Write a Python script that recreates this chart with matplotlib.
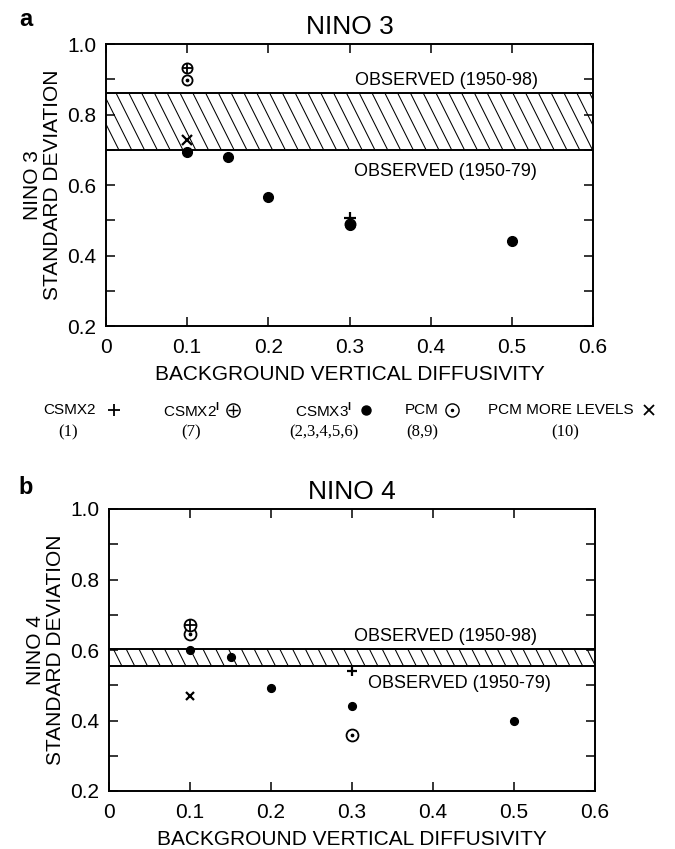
import numpy as np
import matplotlib
matplotlib.use("Agg")
import matplotlib.pyplot as plt
from matplotlib.lines import Line2D
from matplotlib.collections import LineCollection
from matplotlib.patches import Rectangle

# ---------------- data ----------------
diff_csmx2 = [0.3]
diff_csmx2p = [0.1]
diff_csmx3p = [0.1, 0.15, 0.2, 0.3, 0.5]
diff_pcm = [0.1, 0.3]
diff_pcm_more = [0.1]

nino3_csmx2 = [0.505]
nino3_csmx2p = [0.932]
nino3_csmx3p = [0.695, 0.680, 0.565, 0.487, 0.440]
nino3_pcm = [0.898, 0.490]
nino3_pcm_more = [0.728]
nino3_obs_1950_79 = 0.70
nino3_obs_1950_98 = 0.86

nino4_csmx2 = [0.541]
nino4_csmx2p = [0.670]
nino4_csmx3p = [0.600, 0.580, 0.493, 0.442, 0.400]
nino4_pcm = [0.645, 0.358]
nino4_pcm_more = [0.470]
nino4_obs_1950_79 = 0.555
nino4_obs_1950_98 = 0.603

x_ticks = [0, 0.1, 0.2, 0.3, 0.4, 0.5, 0.6]
x_tick_labels = ["0", "0.1", "0.2", "0.3", "0.4", "0.5", "0.6"]
y_ticks = [0.2, 0.3, 0.4, 0.5, 0.6, 0.7, 0.8, 0.9, 1.0]
y_tick_labels = ["0.2", "", "0.4", "", "0.6", "", "0.8", "", "1.0"]

legend_names = ["CSMX2", "CSMX2$^{\\mathbf{I}}$", "CSMX3$^{\\mathbf{I}}$", "PCM", "PCM MORE LEVELS"]
legend_runs = ["(1)", "(7)", "(2,3,4,5,6)", "(8,9)", "(10)"]

plt.rcParams['font.family'] = ['Liberation Sans', 'DejaVu Sans']
plt.rcParams['mathtext.fontset'] = 'custom'
plt.rcParams['mathtext.rm'] = 'Liberation Sans'
plt.rcParams['mathtext.bf'] = 'Liberation Sans:bold'

W, H = 675, 849
fig = plt.figure(figsize=(W / 100, H / 100), dpi=100)


def fx(x):
    return x / W


def fy(y):
    return 1 - y / H


def style_axes(ax, title, ylabel):
    ax.set_xlim(0, 0.6)
    ax.set_ylim(0.2, 1.0)
    ax.set_xticks(x_ticks)
    ax.set_xticklabels(x_tick_labels)
    ax.set_yticks(y_ticks)
    ax.set_yticklabels(y_tick_labels)
    ax.tick_params(direction='in', length=6.5, width=1.1, top=True, right=True,
                   labelsize=15)
    ax.tick_params(axis='x', pad=8.5)
    ax.tick_params(axis='y', pad=7)
    for s in ax.spines.values():
        s.set_linewidth(1.4)
    ax.set_title(title, fontsize=19, pad=7)
    ax.set_xlabel("BACKGROUND VERTICAL DIFFUSIVITY", fontsize=15, labelpad=6)
    ax.set_ylabel(ylabel, fontsize=15, labelpad=4, linespacing=1.05)


def draw_band(ax, lo, hi, spacing_px=12.8, slope=0.5):
    """Hatched band between lo and hi, lines running top-left to bottom-right."""
    xmin, xmax = ax.get_xlim()
    (px0, py0) = ax.transData.transform((xmin, lo))
    (px1, py1) = ax.transData.transform((xmax, hi))
    h = py1 - py0
    tops = np.arange(px0 - slope * h - spacing_px, px1 + spacing_px, spacing_px)
    inv = ax.transData.inverted()
    segs = []
    for xt in tops:
        a = inv.transform((xt, py1))
        b = inv.transform((xt + slope * h, py0))
        segs.append([a, b])
    lc = LineCollection(segs, colors='black', linewidths=0.75, zorder=1)
    clip = Rectangle((xmin, lo), xmax - xmin, hi - lo, transform=ax.transData,
                     facecolor='none', edgecolor='none')
    ax.add_patch(clip)
    lc.set_clip_path(clip)
    ax.add_collection(lc, autolim=False)
    ax.axhline(lo, color='black', lw=1.4, zorder=2)
    ax.axhline(hi, color='black', lw=1.4, zorder=2)
    ax.set_xlim(xmin, xmax)


def draw_points(ax, csmx2, csmx2p, csmx3p, pcm, pcm_more, sz):
    # CSMX3' : filled dot
    ax.plot(diff_csmx3p, csmx3p, ls='none', marker='o', ms=sz['dot'],
            color='black', mec='black', zorder=4)
    # PCM : circle with dot
    ax.plot(diff_pcm, pcm, ls='none', marker='o', ms=sz['circ'], mfc='none',
            mec='black', mew=1.3, zorder=5)
    ax.plot(diff_pcm, pcm, ls='none', marker='o', ms=1.7, color='black', zorder=5)
    # CSMX2' : circle with plus
    ax.plot(diff_csmx2p, csmx2p, ls='none', marker='o', ms=sz['circ'], mfc='white',
            mec='black', mew=1.3, zorder=6)
    ax.plot(diff_csmx2p, csmx2p, ls='none', marker='+', ms=sz['circ'] * 0.95, mew=1.3,
            color='black', zorder=6)
    # CSMX2 : plus
    ax.plot(diff_csmx2, csmx2, ls='none', marker='+', ms=sz['plus'], mew=1.6,
            color='black', zorder=7)
    # PCM more levels : x
    ax.plot(diff_pcm_more, pcm_more, ls='none', marker='x', ms=sz['x'], mew=1.6,
            color='black', zorder=5)


# ---------------- panel a ----------------
ax1 = fig.add_axes([fx(106), fy(326), (593 - 106) / W, (326 - 44) / H])
style_axes(ax1, "NINO 3", "NINO 3\nSTANDARD DEVIATION")
draw_band(ax1, nino3_obs_1950_79, nino3_obs_1950_98)
draw_points(ax1, nino3_csmx2, nino3_csmx2p, nino3_csmx3p, nino3_pcm, nino3_pcm_more,
            dict(plus=8, dot=7, circ=7.3, x=7))
ax1.text(0.420, 0.896, "OBSERVED (1950-98)", fontsize=13, ha='center', va='center')
ax1.text(0.418, 0.637, "OBSERVED (1950-79)", fontsize=13, ha='center', va='center')

# ---------------- panel b ----------------
ax2 = fig.add_axes([fx(109), fy(791), (595 - 109) / W, (791 - 509) / H])
style_axes(ax2, "NINO 4", "NINO 4\nSTANDARD DEVIATION")
draw_band(ax2, nino4_obs_1950_79, nino4_obs_1950_98)
draw_points(ax2, nino4_csmx2, nino4_csmx2p, nino4_csmx3p, nino4_pcm, nino4_pcm_more,
            dict(plus=7.5, dot=5.6, circ=8.6, x=6.3))
ax2.text(0.415, 0.639, "OBSERVED (1950-98)", fontsize=13, ha='center', va='center')
ax2.text(0.433, 0.504, "OBSERVED (1950-79)", fontsize=13, ha='center', va='center')

# panel letters
fig.text(fx(19), fy(19), "a", fontsize=17, fontweight='bold', va='center', ha='left')
fig.text(fx(18), fy(487), "b", fontsize=17, fontweight='bold', va='center', ha='left')

# ---------------- symbol key ----------------
key_text_x = [43, 163, 295, 405, 488]
key_sym_x = [114, 233, 366, 452, 649]
key_run_x = [68, 191, 324, 422, 565]
ky1, ky2 = 410, 432
for name, tx in zip(legend_names, key_text_x):
    fig.text(fx(tx), fy(ky1), name, fontsize=11, ha='left', va='center')
for run, rx in zip(legend_runs, key_run_x):
    fig.text(fx(rx), fy(ky2), run, fontsize=12, ha='center', va='center',
             family=['Liberation Serif', 'DejaVu Serif'])


def key_marker(x, **kw):
    fig.add_artist(Line2D([fx(x)], [fy(ky1)], transform=fig.transFigure,
                          ls='none', color='black', **kw))


key_marker(key_sym_x[0], marker='+', ms=8, mew=1.3)
key_marker(key_sym_x[1], marker='o', ms=9.5, mfc='none', mec='black', mew=1.0)
key_marker(key_sym_x[1], marker='+', ms=7.5, mew=1.0)
key_marker(key_sym_x[2], marker='o', ms=6.5)
key_marker(key_sym_x[3], marker='o', ms=9.5, mfc='none', mec='black', mew=1.0)
key_marker(key_sym_x[3], marker='o', ms=1.5)
key_marker(key_sym_x[4], marker='x', ms=6.5, mew=1.3)

fig.savefig("out.png", dpi=100)
